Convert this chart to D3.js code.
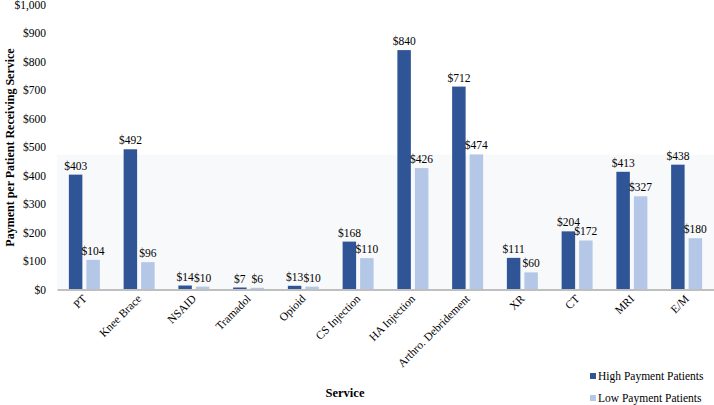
<!DOCTYPE html>
<html>
<head>
<meta charset="utf-8">
<script src="https://cdn.jsdelivr.net/npm/d3@7"></script>
<style>
  body { margin: 0; background: #fff; }
  text { font-family: "Liberation Serif", "Times New Roman", serif; fill: #000; }
</style>
</head>
<body>
<div id="chart"></div>
<script>
// Chart data
var services = ["PT", "Knee Brace", "NSAID", "Tramadol", "Opioid", "CS Injection",
    "HA Injection", "Arthro. Debridement", "XR", "CT", "MRI", "E/M"];
var highPayment = [403, 492, 14, 7, 13, 168, 840, 712, 111, 204, 413, 438];
var lowPayment = [104, 96, 10, 6, 10, 110, 426, 474, 60, 172, 327, 180];
var seriesNames = ["High Payment Patients", "Low Payment Patients"];
var yTicks = [0, 100, 200, 300, 400, 500, 600, 700, 800, 900, 1000];

var svgWidth = 714;
var svgHeight = 405;

var margin = { top: 4.5, right: 0, bottom: 115.5, left: 57 };
var width = svgWidth - margin.left - margin.right;
var height = svgHeight - margin.top - margin.bottom;

var colors = ["#2f5597", "#b4c7e7"];

var svg = d3.select("#chart")
    .append("svg")
    .attr("width", svgWidth)
    .attr("height", svgHeight);

var chartGroup = svg.append("g")
    .attr("transform", `translate(${margin.left}, ${margin.top})`);

var data = services.map(function(s, i) {
    return { service: s, values: [highPayment[i], lowPayment[i]] };
});

var x0 = d3.scaleBand()
    .domain(services)
    .range([0, width])
    .paddingInner(0.434)
    .paddingOuter(0.217);

var x1 = d3.scaleBand()
    .domain([0, 1])
    .range([0, x0.bandwidth()])
    .paddingInner(0.23);

var y = d3.scaleLinear()
    .domain([0, 1000])
    .range([height, 0]);

// faint plot-area shading seen in the original
chartGroup.append("rect")
    .attr("x", 0)
    .attr("y", y(473))
    .attr("width", width)
    .attr("height", height - y(473))
    .attr("fill", "#f8f9fb");

// y axis (labels only)
var leftAxis = d3.axisLeft(y)
    .tickValues(yTicks)
    .tickSize(0)
    .tickPadding(11)
    .tickFormat(d => "$" + d3.format(",")(d));

var yAxis = chartGroup.append("g").call(leftAxis);
yAxis.select(".domain").remove();
yAxis.selectAll("text")
    .style("font-size", "11.5px")
    .style("font-family", "Liberation Serif");

// bars
var groups = chartGroup.selectAll(".group")
    .data(data)
    .enter()
    .append("g")
    .attr("transform", d => `translate(${x0(d.service)}, 0)`);

groups.selectAll("rect")
    .data(d => d.values)
    .enter()
    .append("rect")
    .attr("x", (d, i) => x1(i))
    .attr("y", d => y(d))
    .attr("width", x1.bandwidth())
    .attr("height", d => height - y(d))
    .attr("fill", (d, i) => colors[i]);

groups.selectAll(".val")
    .data(d => d.values)
    .enter()
    .append("text")
    .attr("class", "val")
    .attr("x", (d, i) => x1(i) + x1.bandwidth() / 2)
    .attr("y", d => y(d) - 5)
    .attr("text-anchor", "middle")
    .style("font-size", "11.5px")
    .text(d => "$" + d);

// x axis
var bottomAxis = d3.axisBottom(x0).tickSize(0).tickPadding(0);
var xAxis = chartGroup.append("g")
    .attr("transform", `translate(0, ${height})`)
    .call(bottomAxis);
xAxis.select(".domain")
    .attr("stroke", "#bfbfbf")
    .attr("stroke-width", 2);
xAxis.selectAll("text")
    .style("font-size", "11.5px")
    .style("font-family", "Liberation Serif")
    .attr("text-anchor", "end")
    .attr("dy", 0)
    .attr("transform", "translate(3, 10) rotate(-45)");

// axis titles
chartGroup.append("text")
    .attr("transform", "rotate(-90)")
    .attr("x", 0 - 143)
    .attr("y", 14 - margin.left)
    .attr("text-anchor", "middle")
    .style("font-size", "12px")
    .style("font-weight", "bold")
    .text("Payment per Patient Receiving Service");

svg.append("text")
    .attr("x", 345)
    .attr("y", 397)
    .attr("text-anchor", "middle")
    .style("font-size", "12.5px")
    .style("font-weight", "bold")
    .text("Service");

// legend
var legend = svg.append("g")
    .attr("transform", "translate(590, 373)");

var legendItems = legend.selectAll("g")
    .data(seriesNames)
    .enter()
    .append("g")
    .attr("transform", (d, i) => `translate(0, ${i * 22})`);

legendItems.append("rect")
    .attr("x", 0)
    .attr("y", 0)
    .attr("width", 6)
    .attr("height", 6)
    .attr("fill", (d, i) => colors[i]);

legendItems.append("text")
    .attr("x", 8)
    .attr("y", 7)
    .style("font-size", "11.5px")
    .text(d => d);
</script>
</body>
</html>
